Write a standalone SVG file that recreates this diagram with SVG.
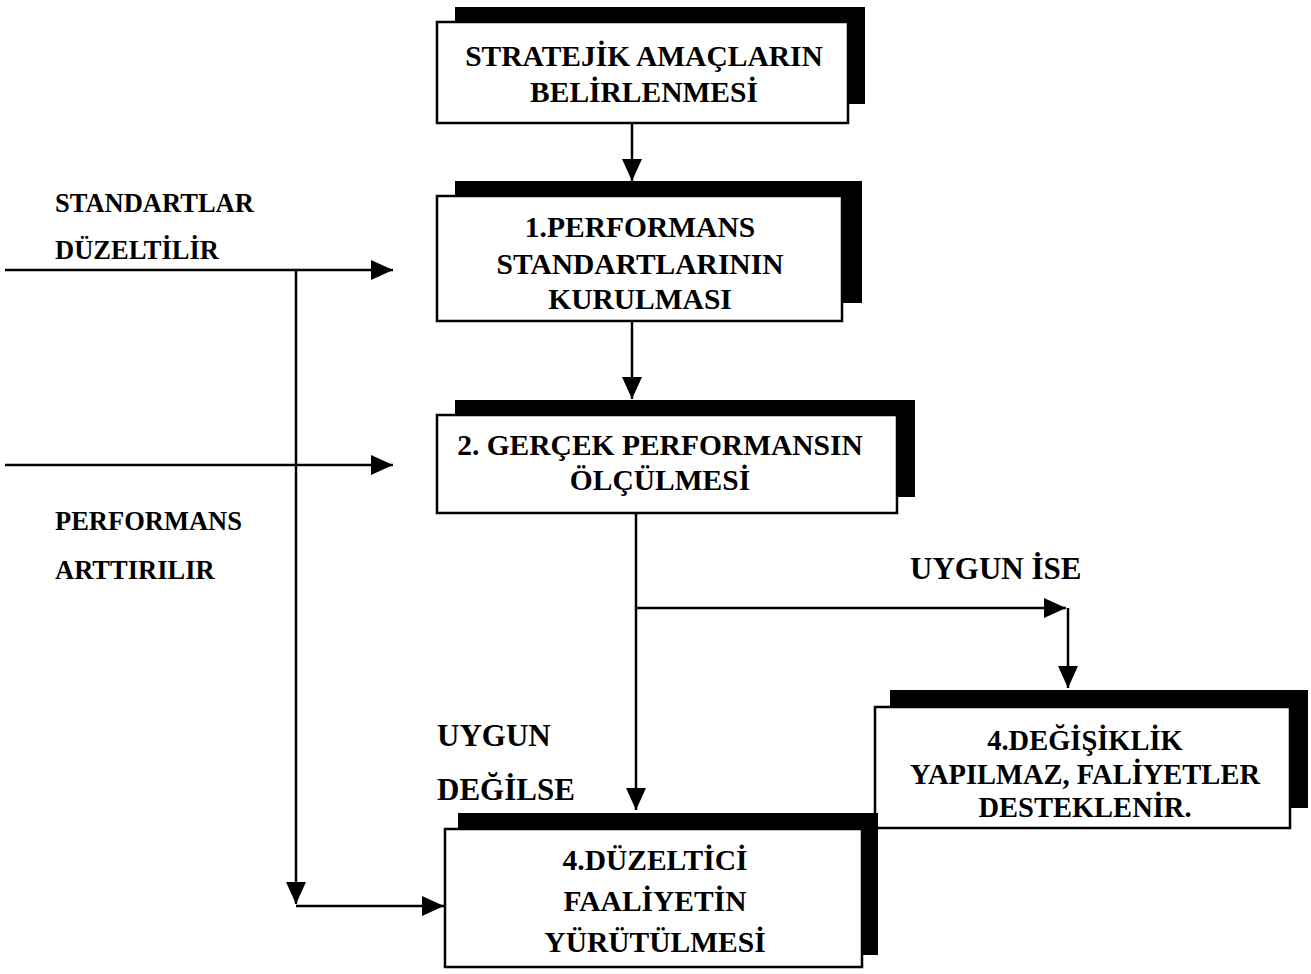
<svg xmlns="http://www.w3.org/2000/svg" width="1311" height="974" viewBox="0 0 1311 974">
  <defs>
    <style>
      .shadow { fill: #000; }
      .box { fill: #fff; stroke: #000; stroke-width: 2.5; }
      .t { font-family: "Liberation Serif", "Times New Roman", serif; font-weight: bold; fill: #000; }
      .bt { font-size: 29.5px; text-anchor: middle; }
      .lbl { font-size: 26.5px; }
      .lbl2 { font-size: 31px; }
      .ln { fill: none; stroke: #000; stroke-width: 2.5; }
    </style>
    <marker id="ah" viewBox="0 0 10 10" refX="10" refY="5" markerWidth="22" markerHeight="20" markerUnits="userSpaceOnUse" orient="auto" preserveAspectRatio="none">
      <path d="M0,0 L10,5 L0,10 Z" fill="#000"/>
    </marker>
  </defs>

  <rect width="1311" height="974" fill="#fff"/>

  <!-- connectors -->
  <g id="connectors">
    <path class="ln" d="M632,123 V181" marker-end="url(#ah)"/>
    <path class="ln" d="M632,321 V399" marker-end="url(#ah)"/>
    <path class="ln" d="M636,513 V810" marker-end="url(#ah)"/>
    <path class="ln" d="M636,608 H1066" marker-end="url(#ah)"/>
    <path class="ln" d="M1068,608 V688" marker-end="url(#ah)"/>
    <path class="ln" d="M5,270 H393" marker-end="url(#ah)"/>
    <path class="ln" d="M5,465 H393" marker-end="url(#ah)"/>
    <path class="ln" d="M296,270 V904" marker-end="url(#ah)"/>
    <path class="ln" d="M296,906 H444" marker-end="url(#ah)"/>
  </g>

  <!-- free labels -->
  <g id="labels" class="t">
    <text class="lbl" x="55" y="212">STANDARTLAR</text>
    <text class="lbl" x="55" y="259">DÜZELTİLİR</text>
    <text class="lbl" x="55" y="530">PERFORMANS</text>
    <text class="lbl" x="55" y="579">ARTTIRILIR</text>
    <text class="lbl2" x="910" y="579">UYGUN İSE</text>
    <text class="lbl2" x="437" y="746">UYGUN</text>
    <text class="lbl2" x="437" y="800">DEĞİLSE</text>
  </g>

  <g id="node-strateji">
    <rect class="shadow" x="455" y="7" width="410" height="97"/>
    <rect class="box" x="437" y="22" width="411" height="101"/>
    <text class="t bt" x="644" y="66">STRATEJİK AMAÇLARIN</text>
    <text class="t bt" x="644" y="102">BELİRLENMESİ</text>
  </g>

  <g id="node-standart">
    <rect class="shadow" x="455" y="181" width="407" height="122"/>
    <rect class="box" x="437" y="196" width="405" height="125"/>
    <text class="t bt" x="640" y="237">1.PERFORMANS</text>
    <text class="t bt" x="640" y="274">STANDARTLARININ</text>
    <text class="t bt" x="640" y="309">KURULMASI</text>
  </g>

  <g id="node-olcum">
    <rect class="shadow" x="455" y="400" width="460" height="97"/>
    <rect class="box" x="437" y="415" width="460" height="98"/>
    <text class="t bt" x="660" y="455">2. GERÇEK PERFORMANSIN</text>
    <text class="t bt" x="660" y="490">ÖLÇÜLMESİ</text>
  </g>

  <g id="node-degisiklik">
    <rect class="shadow" x="890" y="690" width="418" height="118"/>
    <rect class="box" x="875" y="707" width="415" height="121"/>
    <text class="t bt" x="1085" y="750" style="font-size:28.5px">4.DEĞİŞİKLİK</text>
    <text class="t bt" x="1085" y="784" style="font-size:28.5px">YAPILMAZ, FALİYETLER</text>
    <text class="t bt" x="1085" y="817" style="font-size:28.5px">DESTEKLENİR.</text>
  </g>

  <g id="node-duzeltici">
    <rect class="shadow" x="458" y="813" width="420" height="142"/>
    <rect class="box" x="445" y="829" width="417" height="138"/>
    <text class="t bt" x="655" y="870">4.DÜZELTİCİ</text>
    <text class="t bt" x="655" y="911">FAALİYETİN</text>
    <text class="t bt" x="655" y="952">YÜRÜTÜLMESİ</text>
  </g>
</svg>
